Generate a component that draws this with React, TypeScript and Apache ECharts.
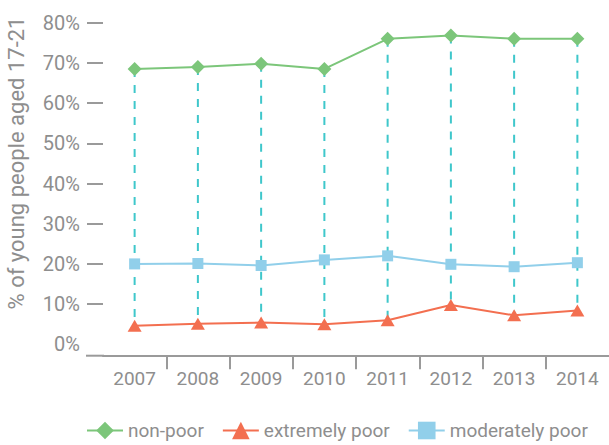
import React, { useEffect, useRef } from "react";
import * as echarts from "echarts";

const years = ["2007", "2008", "2009", "2010", "2011", "2012", "2013", "2014"];
const nonPoor = [68.5, 69, 69.8, 68.5, 76, 76.8, 76, 76];
const extremelyPoor = [4.6, 5.1, 5.4, 5.0, 6.0, 9.8, 7.2, 8.4];
const moderatelyPoor = [20.0, 20.1, 19.6, 21.0, 22.0, 19.9, 19.3, 20.3];
const yTickValues = [10, 20, 30, 40, 50, 60, 70, 80];
const seriesNames = ["non-poor", "extremely poor", "moderately poor"];
const yAxisTitle = "% of young people aged 17-21";

const FONT = "Roboto, 'Noto Sans', sans-serif";
const GRAY = "#8e8e8e";
const AXIS = "#9a9a9a";

export default function App() {
  const ref = useRef<HTMLDivElement>(null);
  useEffect(() => {
    if (!ref.current) return;
    const chart = echarts.init(ref.current, undefined, { renderer: "svg" });
    // boundaries between categories (ticks drawn between year labels, none at the ends)
    const boundaryTicks = years.slice(1).map((_, i) => i + 1);
    const option: any = {
      animation: false,
      backgroundColor: "#ffffff",
      textStyle: { fontFamily: FONT },
      grid: { left: 103, right: -2, top: 22.7, bottom: 100.7, containLabel: false },
      legend: {
        data: seriesNames,
        left: 81,
        top: 416,
        itemWidth: 36,
        itemHeight: 22,
        itemGap: 18,
        textStyle: { fontFamily: FONT, fontSize: 19, color: GRAY },
      },
      xAxis: [
        {
          type: "category",
          data: years,
          offset: 11,
          axisLine: { show: false },
          axisTick: { show: false },
          axisLabel: { fontFamily: FONT, fontSize: 19, color: GRAY, margin: 14 },
          splitLine: { show: false },
        },
        {
          type: "value",
          position: "bottom",
          min: 0,
          max: years.length,
          interval: 1,
          offset: 11,
          axisLine: { show: true, onZero: false, lineStyle: { color: AXIS, width: 2 } },
          axisTick: {
            show: true,
            length: 14,
            customValues: boundaryTicks,
            lineStyle: { color: AXIS, width: 2 },
          },
          axisLabel: { show: false },
          splitLine: { show: false },
        },
      ],
      yAxis: {
        type: "value",
        min: 0,
        max: 80,
        interval: 10,
        axisLine: { show: false },
        axisTick: {
          show: true,
          length: 16,
          customValues: yTickValues,
          lineStyle: { color: AXIS, width: 2 },
        },
        axisLabel: { fontFamily: FONT, fontSize: 20, color: GRAY, margin: 23, formatter: "{value}%" },
        splitLine: { show: false },
      },
      graphic: [
        {
          type: "line",
          shape: { x1: 86, y1: 355.7, x2: 104, y2: 355.7 },
          style: { stroke: AXIS, lineWidth: 2 },
        },
        {
          type: "text",
          x: 16,
          y: 163,
          rotation: Math.PI / 2,
          style: {
            text: yAxisTitle,
            fontFamily: FONT,
            fontSize: 22,
            fill: GRAY,
            textAlign: "center",
            textVerticalAlign: "middle",
          },
        },
      ],
      series: [
        {
          type: "custom",
          name: "dash",
          z: 1,
          silent: true,
          xAxisIndex: 0,
          data: years.map((_, i) => [i, nonPoor[i], extremelyPoor[i]]),
          renderItem: (params: any, api: any) => {
            const p1 = api.coord([api.value(0), api.value(1)]);
            const p2 = api.coord([api.value(0), api.value(2)]);
            return {
              type: "line",
              shape: { x1: p1[0], y1: p1[1], x2: p2[0], y2: p2[1] },
              style: { stroke: "#3fc7cb", lineWidth: 2, lineDash: [8, 8] },
            };
          },
        },
        {
          name: seriesNames[0],
          type: "line",
          xAxisIndex: 0,
          z: 3,
          data: nonPoor,
          symbol: "diamond",
          symbolSize: 14,
          color: "#7cc67a",
          lineStyle: { width: 2, color: "#7cc67a" },
          itemStyle: { color: "#7cc67a" },
        },
        {
          name: seriesNames[1],
          type: "line",
          xAxisIndex: 0,
          z: 3,
          data: extremelyPoor,
          symbol: "triangle",
          symbolSize: [14, 12],
          color: "#f36f50",
          lineStyle: { width: 2, color: "#f36f50" },
          itemStyle: { color: "#f36f50" },
        },
        {
          name: seriesNames[2],
          type: "line",
          xAxisIndex: 0,
          z: 3,
          data: moderatelyPoor,
          symbol: "rect",
          symbolSize: 11,
          color: "#91cfea",
          lineStyle: { width: 2, color: "#91cfea" },
          itemStyle: { color: "#91cfea" },
        },
      ],
    };
    chart.setOption(option);
    return () => chart.dispose();
  }, []);
  return <div ref={ref} style={{ width: 609, height: 445, position: "absolute", left: 0, top: 0 }} />;
}
